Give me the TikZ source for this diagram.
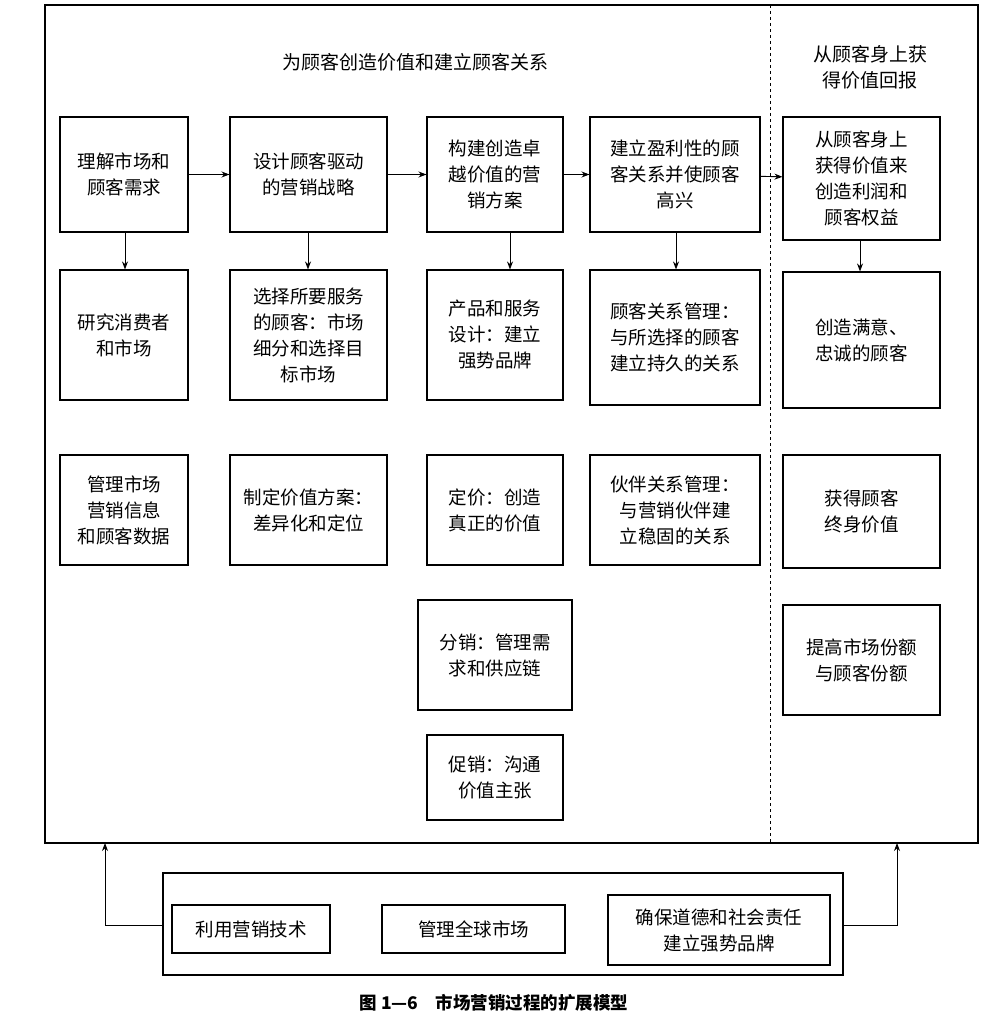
\documentclass[tikz,border=0pt]{standalone}
\usepackage{fontspec}
\newfontfamily\cjk{Noto Sans CJK SC}
\usetikzlibrary{arrows.meta,calc}
\newcommand\bx[6]{\node[bx,minimum width={#4pt-#2pt},minimum height={#5pt-#3pt}] (#1) at ({(#2+#4)/2},{(#3+#5)/2}) {#6};}
\begin{document}
\begin{tikzpicture}[x=1pt,y=-1pt,
  bx/.style={draw,line width=1.1pt,inner sep=2pt,align=center,font=\cjk\fontsize{18.5}{26}\selectfont},
  arr/.style={-{Stealth[length=8pt,width=6pt]},line width=0.9pt},
  lab/.style={align=center,font=\cjk\fontsize{19}{26}\selectfont}]
\useasboundingbox (0,0) rectangle (989,1024);
\draw[line width=1.1pt] (45,5) rectangle (978,843);
\draw[dashed,line width=0.8pt] (770,5) -- (770,843);
\node[lab] (h1) at (415,62) {为顾客创造价值和建立顾客关系};
\node[lab] (h2) at (870,67) {从顾客身上获\\得价值回报};
\bx{a1}{60}{117}{188}{232}{理解市场和\\顾客需求}
\bx{a2}{60}{270}{188}{400}{研究消费者\\和市场}
\bx{a3}{60}{455}{188}{565}{管理市场\\营销信息\\和顾客数据}
\bx{b1}{230}{117}{387}{232}{设计顾客驱动\\的营销战略}
\bx{b2}{230}{270}{387}{400}{选择所要服务\\的顾客：市场\\细分和选择目\\标市场}
\bx{b3}{230}{455}{387}{565}{制定价值方案：\\差异化和定位}
\bx{c1}{427}{117}{563}{232}{构建创造卓\\越价值的营\\销方案}
\bx{c2}{427}{270}{563}{400}{产品和服务\\设计：建立\\强势品牌}
\bx{c3}{427}{455}{563}{565}{定价：创造\\真正的价值}
\bx{c4}{418}{600}{572}{710}{分销：管理需\\求和供应链}
\bx{c5}{427}{735}{563}{820}{促销：沟通\\价值主张}
\bx{d1}{590}{117}{760}{232}{建立盈利性的顾\\客关系并使顾客\\高兴}
\bx{d2}{590}{270}{760}{405}{顾客关系管理：\\与所选择的顾客\\建立持久的关系}
\bx{d3}{590}{455}{760}{565}{伙伴关系管理：\\与营销伙伴建\\立稳固的关系}
\bx{e1}{783}{117}{940}{240}{从顾客身上\\获得价值来\\创造利润和\\顾客权益}
\bx{e2}{783}{272}{940}{408}{创造满意、\\忠诚的顾客}
\bx{e3}{783}{455}{940}{568}{获得顾客\\终身价值}
\bx{e4}{783}{605}{940}{715}{提高市场份额\\与顾客份额}
\draw[line width=1.1pt] (163,873) rectangle (843,975);
\coordinate (bl) at (163,925); \coordinate (br) at (843,925);
\bx{f1}{172}{905}{330}{953}{利用营销技术}
\bx{f2}{382}{905}{565}{953}{管理全球市场}
\bx{f3}{608}{895}{830}{965}{确保道德和社会责任\\建立强势品牌}
\node[font=\cjk\bfseries\fontsize{17.5}{20}\selectfont] (cap) at (494,1003) {图 1—6\quad 市场营销过程的扩展模型};
\foreach \p/\q in {a1/b1,b1/c1,c1/d1,d1/e1} \draw[arr] (\p) -- (\q);
\draw[arr] (a1.south -| 125,0) -- (a2.north -| 125,0);
\draw[arr] (b1.south -| 308,0) -- (b2.north -| 308,0);
\draw[arr] (c1.south -| 510,0) -- (c2.north -| 510,0);
\draw[arr] (d1.south -| 676,0) -- (d2.north -| 676,0);
\draw[arr] (e1.south -| 860,0) -- (e2.north -| 860,0);
\draw[arr] (bl) -- (105,925) -- (105,843);
\draw[arr] (br) -- (897,925) -- (897,843);
\end{tikzpicture}
\end{document}
